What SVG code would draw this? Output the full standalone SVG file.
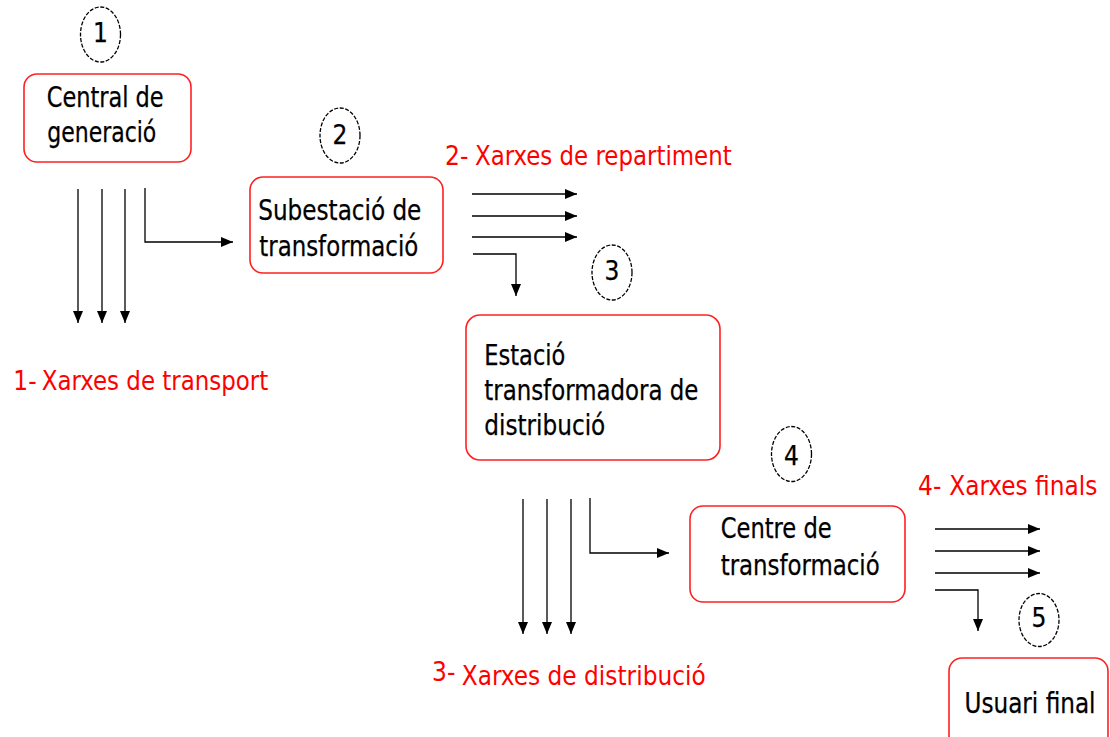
<svg xmlns="http://www.w3.org/2000/svg" width="1110" height="737" viewBox="0 0 1110 737">
<style>
.box{fill:#fff;stroke:#ff2020;stroke-width:1.6}
.num{fill:none;stroke:#000;stroke-width:1.3;stroke-dasharray:4 1.6}
.t{font-family:"DejaVu Sans Condensed","DejaVu Sans",sans-serif;font-size:28px;fill:#000;stroke:#000;stroke-width:0.25}
.n{font-family:"DejaVu Sans Condensed","DejaVu Sans",sans-serif;font-size:26px;fill:#000;text-anchor:middle;stroke:#000;stroke-width:0.25}
.r{font-family:"DejaVu Sans Condensed","DejaVu Sans",sans-serif;font-size:26px;fill:#ff0000}
.c{fill:none;stroke:#000;stroke-width:1.3}
</style>
<defs>
<marker id="ah" markerUnits="userSpaceOnUse" markerWidth="13" markerHeight="11" refX="12" refY="5" orient="auto">
<path d="M0,0 L12,5 L0,10 z" fill="#000"/>
</marker>
</defs>
<rect width="1110" height="737" fill="#fff"/>

<g id="connectors">
<path class="c" marker-end="url(#ah)" d="M78 189 V323"/>
<path class="c" marker-end="url(#ah)" d="M102 189 V323"/>
<path class="c" marker-end="url(#ah)" d="M125 189 V323"/>
<path class="c" marker-end="url(#ah)" d="M145 188 V242 H233"/>
<path class="c" marker-end="url(#ah)" d="M472 194 H577"/>
<path class="c" marker-end="url(#ah)" d="M472 216 H577"/>
<path class="c" marker-end="url(#ah)" d="M472 237 H577"/>
<path class="c" marker-end="url(#ah)" d="M473 254 H516 V296"/>
<path class="c" marker-end="url(#ah)" d="M523 499 V634"/>
<path class="c" marker-end="url(#ah)" d="M547 499 V634"/>
<path class="c" marker-end="url(#ah)" d="M571 499 V634"/>
<path class="c" marker-end="url(#ah)" d="M590 498 V553 H669"/>
<path class="c" marker-end="url(#ah)" d="M935 529 H1040"/>
<path class="c" marker-end="url(#ah)" d="M935 551 H1040"/>
<path class="c" marker-end="url(#ah)" d="M935 573 H1040"/>
<path class="c" marker-end="url(#ah)" d="M935 590 H978 V631"/>
</g>

<g id="num1"><ellipse class="num" cx="100.5" cy="34.5" rx="20" ry="27.5"/><text class="n" x="100.5" y="42">1</text></g>
<g id="num2"><ellipse class="num" cx="340" cy="135.5" rx="20" ry="27.5"/><text class="n" x="340" y="144">2</text></g>
<g id="num3"><ellipse class="num" cx="612" cy="272.5" rx="20" ry="27.5"/><text class="n" x="612" y="280">3</text></g>
<g id="num4"><ellipse class="num" cx="791.5" cy="454" rx="20" ry="27.5"/><text class="n" x="791.5" y="465">4</text></g>
<g id="num5"><ellipse class="num" cx="1039" cy="620" rx="20" ry="26.5"/><text class="n" x="1039" y="627">5</text></g>

<g id="central">
<rect class="box" x="24" y="74" width="167" height="88" rx="13"/>
<text class="t" x="46.7" y="107" textLength="117" lengthAdjust="spacingAndGlyphs">Central de</text>
<text class="t" x="47.3" y="142" textLength="109" lengthAdjust="spacingAndGlyphs">generació</text>
</g>
<g id="subestacio">
<rect class="box" x="250" y="177" width="193" height="96" rx="13"/>
<text class="t" x="258.3" y="220" textLength="163" lengthAdjust="spacingAndGlyphs">Subestació de</text>
<text class="t" x="259.3" y="256" textLength="159" lengthAdjust="spacingAndGlyphs">transformació</text>
</g>
<g id="estacio">
<rect class="box" x="466" y="315" width="254" height="145" rx="14"/>
<text class="t" x="484.3" y="365" textLength="81" lengthAdjust="spacingAndGlyphs">Estació</text>
<text class="t" x="484.3" y="400" textLength="214" lengthAdjust="spacingAndGlyphs">transformadora de</text>
<text class="t" x="484.3" y="435" textLength="121" lengthAdjust="spacingAndGlyphs">distribució</text>
</g>
<g id="centre">
<rect class="box" x="690" y="506" width="215" height="96" rx="13"/>
<text class="t" x="720.7" y="538" textLength="111" lengthAdjust="spacingAndGlyphs">Centre de</text>
<text class="t" x="720.7" y="575" textLength="159" lengthAdjust="spacingAndGlyphs">transformació</text>
</g>
<g id="usuari">
<rect class="box" x="949" y="658" width="159" height="110" rx="13"/>
<text class="t" x="964.5" y="713" textLength="131" lengthAdjust="spacingAndGlyphs">Usuari final</text>
</g>

<g id="labels">
<text class="r"><tspan x="13.3" y="389.5">1- </tspan><tspan x="41.7" y="389.5" textLength="226.6" lengthAdjust="spacingAndGlyphs">Xarxes de transport</tspan></text>
<text class="r"><tspan x="445" y="165">2- </tspan><tspan x="475" y="165" textLength="256.7" lengthAdjust="spacingAndGlyphs">Xarxes de repartiment</tspan></text>
<text class="r"><tspan x="432" y="681">3- </tspan><tspan x="461.7" y="685" textLength="244" lengthAdjust="spacingAndGlyphs">Xarxes de distribució</tspan></text>
<text class="r"><tspan x="918" y="495">4- </tspan><tspan x="949.3" y="495" textLength="148" lengthAdjust="spacingAndGlyphs">Xarxes finals</tspan></text>
</g>
</svg>
